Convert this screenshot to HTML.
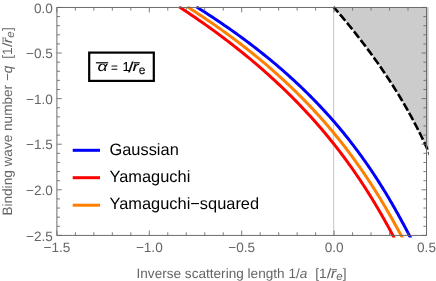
<!DOCTYPE html>
<html><head><meta charset="utf-8"><title>plot</title>
<style>html,body{margin:0;padding:0;background:#fff;}body{width:436px;height:281px;overflow:hidden;position:relative;font-family:"Liberation Sans",sans-serif;}</style>
</head><body>
<svg width="436" height="281" viewBox="0 0 436 281" style="position:absolute;left:0;top:0;will-change:transform;text-rendering:geometricPrecision;font-family:'Liberation Sans',sans-serif">
<rect width="436" height="281" fill="#fff"/>
<defs><clipPath id="cp"><rect x="55.9" y="6.25" width="372.80" height="231.15"/></clipPath></defs>
<path d="M333.99,7.45 L335.57,9.28 L337.15,11.11 L338.72,12.95 L340.27,14.78 L341.82,16.61 L343.36,18.44 L344.88,20.28 L346.40,22.11 L347.91,23.94 L349.41,25.77 L350.89,27.61 L352.37,29.44 L353.84,31.27 L355.30,33.10 L356.74,34.93 L358.18,36.77 L359.61,38.60 L361.03,40.43 L362.43,42.26 L363.83,44.10 L365.22,45.93 L366.60,47.76 L367.97,49.59 L369.32,51.42 L370.67,53.26 L372.01,55.09 L373.34,56.92 L374.66,58.75 L375.97,60.59 L377.26,62.42 L378.55,64.25 L379.83,66.08 L381.10,67.92 L382.36,69.75 L383.61,71.58 L384.85,73.41 L386.08,75.24 L387.30,77.08 L388.50,78.91 L389.70,80.74 L390.89,82.57 L392.07,84.41 L393.24,86.24 L394.40,88.07 L395.55,89.90 L396.69,91.73 L397.82,93.57 L398.94,95.40 L400.05,97.23 L401.15,99.06 L402.24,100.90 L403.32,102.73 L404.39,104.56 L405.45,106.39 L406.50,108.23 L407.54,110.06 L408.57,111.89 L409.59,113.72 L410.60,115.55 L411.61,117.39 L412.60,119.22 L413.58,121.05 L414.55,122.88 L415.51,124.72 L416.46,126.55 L417.40,128.38 L418.33,130.21 L419.25,132.04 L420.17,133.88 L421.07,135.71 L421.96,137.54 L422.84,139.37 L423.71,141.21 L424.57,143.04 L425.43,144.87 L426.27,146.70 L427.10,148.54 L427.92,150.37 L428.73,152.20 L428.7,152.2 L428.7,7.15 L333.99,7.15 Z" fill="#cccccc"/>
<line x1="333.70" y1="7.45" x2="333.70" y2="235.4" stroke="#c4c4c4" stroke-width="1"/>
<g clip-path="url(#cp)" fill="none" stroke-width="3" stroke-linejoin="round">
<path d="M179.16,6.80 L183.14,9.42 L187.08,12.04 L190.97,14.66 L194.82,17.28 L198.62,19.90 L202.37,22.52 L206.08,25.14 L209.75,27.76 L213.37,30.38 L216.95,33.00 L220.49,35.62 L223.98,38.24 L227.43,40.86 L230.84,43.48 L234.20,46.10 L237.53,48.72 L240.81,51.34 L244.06,53.96 L247.26,56.58 L250.43,59.20 L253.55,61.82 L256.64,64.44 L259.69,67.07 L262.70,69.69 L265.67,72.31 L268.60,74.93 L271.50,77.55 L274.36,80.17 L277.19,82.79 L279.98,85.41 L282.73,88.03 L285.45,90.65 L288.14,93.27 L290.79,95.89 L293.40,98.51 L295.99,101.13 L298.54,103.75 L301.05,106.37 L303.54,108.99 L305.99,111.61 L308.41,114.23 L310.80,116.85 L313.16,119.47 L315.49,122.09 L317.79,124.71 L320.06,127.33 L322.31,129.95 L324.52,132.57 L326.70,135.19 L328.86,137.81 L330.99,140.43 L333.09,143.05 L335.16,145.67 L337.21,148.29 L339.23,150.91 L341.23,153.53 L343.20,156.15 L345.15,158.77 L347.07,161.39 L348.97,164.01 L350.84,166.63 L352.69,169.25 L354.52,171.87 L356.33,174.49 L358.11,177.11 L359.87,179.73 L361.61,182.36 L363.33,184.98 L365.03,187.60 L366.71,190.22 L368.37,192.84 L370.01,195.46 L371.63,198.08 L373.23,200.70 L374.81,203.32 L376.38,205.94 L377.93,208.56 L379.46,211.18 L380.98,213.80 L382.47,216.42 L383.96,219.04 L385.42,221.66 L386.88,224.28 L388.31,226.90 L389.74,229.52 L391.14,232.14 L392.54,234.76 L393.92,237.38 L395.29,240.00" stroke="#ff0000"/>
<path d="M187.44,6.80 L191.51,9.42 L195.53,12.04 L199.50,14.66 L203.41,17.28 L207.28,19.90 L211.10,22.52 L214.87,25.14 L218.59,27.76 L222.27,30.38 L225.90,33.00 L229.48,35.62 L233.01,38.24 L236.50,40.86 L239.94,43.48 L243.34,46.10 L246.69,48.72 L250.00,51.34 L253.27,53.96 L256.49,56.58 L259.67,59.20 L262.81,61.82 L265.91,64.44 L268.97,67.07 L271.98,69.69 L274.96,72.31 L277.89,74.93 L280.79,77.55 L283.65,80.17 L286.47,82.79 L289.25,85.41 L291.99,88.03 L294.70,90.65 L297.37,93.27 L300.01,95.89 L302.61,98.51 L305.17,101.13 L307.70,103.75 L310.20,106.37 L312.66,108.99 L315.09,111.61 L317.49,114.23 L319.86,116.85 L322.19,119.47 L324.50,122.09 L326.77,124.71 L329.01,127.33 L331.22,129.95 L333.40,132.57 L335.56,135.19 L337.69,137.81 L339.78,140.43 L341.85,143.05 L343.90,145.67 L345.92,148.29 L347.91,150.91 L349.87,153.53 L351.82,156.15 L353.73,158.77 L355.62,161.39 L357.49,164.01 L359.34,166.63 L361.16,169.25 L362.96,171.87 L364.74,174.49 L366.50,177.11 L368.24,179.73 L369.96,182.36 L371.66,184.98 L373.33,187.60 L374.99,190.22 L376.64,192.84 L378.26,195.46 L379.87,198.08 L381.45,200.70 L383.03,203.32 L384.58,205.94 L386.13,208.56 L387.65,211.18 L389.16,213.80 L390.66,216.42 L392.15,219.04 L393.62,221.66 L395.07,224.28 L396.52,226.90 L397.95,229.52 L399.38,232.14 L400.79,234.76 L402.19,237.38 L403.58,240.00" stroke="#ff8000"/>
<path d="M196.37,6.80 L200.51,9.42 L204.60,12.04 L208.64,14.66 L212.62,17.28 L216.55,19.90 L220.43,22.52 L224.26,25.14 L228.03,27.76 L231.76,30.38 L235.44,33.00 L239.06,35.62 L242.64,38.24 L246.17,40.86 L249.65,43.48 L253.09,46.10 L256.47,48.72 L259.81,51.34 L263.11,53.96 L266.36,56.58 L269.56,59.20 L272.73,61.82 L275.84,64.44 L278.92,67.07 L281.95,69.69 L284.94,72.31 L287.89,74.93 L290.79,77.55 L293.66,80.17 L296.48,82.79 L299.27,85.41 L302.02,88.03 L304.72,90.65 L307.39,93.27 L310.02,95.89 L312.62,98.51 L315.18,101.13 L317.70,103.75 L320.19,106.37 L322.64,108.99 L325.05,111.61 L327.44,114.23 L329.79,116.85 L332.10,119.47 L334.39,122.09 L336.64,124.71 L338.86,127.33 L341.05,129.95 L343.21,132.57 L345.33,135.19 L347.43,137.81 L349.50,140.43 L351.54,143.05 L353.56,145.67 L355.54,148.29 L357.50,150.91 L359.43,153.53 L361.34,156.15 L363.22,158.77 L365.08,161.39 L366.91,164.01 L368.72,166.63 L370.50,169.25 L372.26,171.87 L374.00,174.49 L375.72,177.11 L377.42,179.73 L379.09,182.36 L380.74,184.98 L382.38,187.60 L383.99,190.22 L385.59,192.84 L387.17,195.46 L388.73,198.08 L390.27,200.70 L391.80,203.32 L393.31,205.94 L394.80,208.56 L396.28,211.18 L397.75,213.80 L399.20,216.42 L400.63,219.04 L402.06,221.66 L403.47,224.28 L404.86,226.90 L406.25,229.52 L407.62,232.14 L408.99,234.76 L410.34,237.38 L411.69,240.00" stroke="#0000ff"/>
<path d="M333.51,6.90 L335.17,8.81 L336.82,10.73 L338.45,12.64 L340.08,14.55 L341.70,16.46 L343.30,18.38 L344.90,20.29 L346.48,22.20 L348.05,24.11 L349.61,26.03 L351.16,27.94 L352.70,29.85 L354.23,31.76 L355.75,33.68 L357.26,35.59 L358.76,37.50 L360.24,39.42 L361.72,41.33 L363.18,43.24 L364.63,45.15 L366.08,47.07 L367.51,48.98 L368.93,50.89 L370.34,52.80 L371.74,54.72 L373.13,56.63 L374.50,58.54 L375.87,60.45 L377.23,62.37 L378.57,64.28 L379.91,66.19 L381.23,68.11 L382.54,70.02 L383.85,71.93 L385.14,73.84 L386.42,75.76 L387.69,77.67 L388.95,79.58 L390.19,81.49 L391.43,83.41 L392.66,85.32 L393.87,87.23 L395.08,89.14 L396.27,91.06 L397.45,92.97 L398.63,94.88 L399.79,96.79 L400.94,98.71 L402.08,100.62 L403.21,102.53 L404.32,104.45 L405.43,106.36 L406.53,108.27 L407.61,110.18 L408.69,112.10 L409.75,114.01 L410.81,115.92 L411.85,117.83 L412.88,119.75 L413.90,121.66 L414.91,123.57 L415.91,125.48 L416.90,127.40 L417.88,129.31 L418.84,131.22 L419.80,133.14 L420.74,135.05 L421.68,136.96 L422.60,138.87 L423.51,140.79 L424.41,142.70 L425.31,144.61 L426.19,146.52 L427.05,148.44 L427.91,150.35 L428.76,152.26 L429.60,154.17 L430.42,156.09 L431.24,158.00" stroke="#000" stroke-width="2.6" stroke-dasharray="8.27 2.68" stroke-dashoffset="1.0"/>
</g>
<g stroke="#666666" stroke-width="0.85"><line x1="56.90" y1="7.45" x2="56.90" y2="12.350000000000001"/><line x1="56.90" y1="235.4" x2="56.90" y2="230.5"/><line x1="75.38" y1="7.45" x2="75.38" y2="10.55"/><line x1="75.38" y1="235.4" x2="75.38" y2="232.3"/><line x1="93.86" y1="7.45" x2="93.86" y2="10.55"/><line x1="93.86" y1="235.4" x2="93.86" y2="232.3"/><line x1="112.34" y1="7.45" x2="112.34" y2="10.55"/><line x1="112.34" y1="235.4" x2="112.34" y2="232.3"/><line x1="130.82" y1="7.45" x2="130.82" y2="10.55"/><line x1="130.82" y1="235.4" x2="130.82" y2="232.3"/><line x1="149.30" y1="7.45" x2="149.30" y2="12.350000000000001"/><line x1="149.30" y1="235.4" x2="149.30" y2="230.5"/><line x1="167.78" y1="7.45" x2="167.78" y2="10.55"/><line x1="167.78" y1="235.4" x2="167.78" y2="232.3"/><line x1="186.26" y1="7.45" x2="186.26" y2="10.55"/><line x1="186.26" y1="235.4" x2="186.26" y2="232.3"/><line x1="204.74" y1="7.45" x2="204.74" y2="10.55"/><line x1="204.74" y1="235.4" x2="204.74" y2="232.3"/><line x1="223.22" y1="7.45" x2="223.22" y2="10.55"/><line x1="223.22" y1="235.4" x2="223.22" y2="232.3"/><line x1="241.70" y1="7.45" x2="241.70" y2="12.350000000000001"/><line x1="241.70" y1="235.4" x2="241.70" y2="230.5"/><line x1="260.18" y1="7.45" x2="260.18" y2="10.55"/><line x1="260.18" y1="235.4" x2="260.18" y2="232.3"/><line x1="278.66" y1="7.45" x2="278.66" y2="10.55"/><line x1="278.66" y1="235.4" x2="278.66" y2="232.3"/><line x1="297.14" y1="7.45" x2="297.14" y2="10.55"/><line x1="297.14" y1="235.4" x2="297.14" y2="232.3"/><line x1="315.62" y1="7.45" x2="315.62" y2="10.55"/><line x1="315.62" y1="235.4" x2="315.62" y2="232.3"/><line x1="334.10" y1="7.45" x2="334.10" y2="12.350000000000001"/><line x1="334.10" y1="235.4" x2="334.10" y2="230.5"/><line x1="352.58" y1="7.45" x2="352.58" y2="10.55"/><line x1="352.58" y1="235.4" x2="352.58" y2="232.3"/><line x1="371.06" y1="7.45" x2="371.06" y2="10.55"/><line x1="371.06" y1="235.4" x2="371.06" y2="232.3"/><line x1="389.54" y1="7.45" x2="389.54" y2="10.55"/><line x1="389.54" y1="235.4" x2="389.54" y2="232.3"/><line x1="408.02" y1="7.45" x2="408.02" y2="10.55"/><line x1="408.02" y1="235.4" x2="408.02" y2="232.3"/><line x1="426.50" y1="7.45" x2="426.50" y2="12.350000000000001"/><line x1="426.50" y1="235.4" x2="426.50" y2="230.5"/><line x1="56.9" y1="7.45" x2="61.8" y2="7.45"/><line x1="426.5" y1="7.45" x2="421.6" y2="7.45"/><line x1="56.9" y1="16.57" x2="60.0" y2="16.57"/><line x1="426.5" y1="16.57" x2="423.4" y2="16.57"/><line x1="56.9" y1="25.69" x2="60.0" y2="25.69"/><line x1="426.5" y1="25.69" x2="423.4" y2="25.69"/><line x1="56.9" y1="34.80" x2="60.0" y2="34.80"/><line x1="426.5" y1="34.80" x2="423.4" y2="34.80"/><line x1="56.9" y1="43.92" x2="60.0" y2="43.92"/><line x1="426.5" y1="43.92" x2="423.4" y2="43.92"/><line x1="56.9" y1="53.04" x2="61.8" y2="53.04"/><line x1="426.5" y1="53.04" x2="421.6" y2="53.04"/><line x1="56.9" y1="62.16" x2="60.0" y2="62.16"/><line x1="426.5" y1="62.16" x2="423.4" y2="62.16"/><line x1="56.9" y1="71.28" x2="60.0" y2="71.28"/><line x1="426.5" y1="71.28" x2="423.4" y2="71.28"/><line x1="56.9" y1="80.39" x2="60.0" y2="80.39"/><line x1="426.5" y1="80.39" x2="423.4" y2="80.39"/><line x1="56.9" y1="89.51" x2="60.0" y2="89.51"/><line x1="426.5" y1="89.51" x2="423.4" y2="89.51"/><line x1="56.9" y1="98.63" x2="61.8" y2="98.63"/><line x1="426.5" y1="98.63" x2="421.6" y2="98.63"/><line x1="56.9" y1="107.75" x2="60.0" y2="107.75"/><line x1="426.5" y1="107.75" x2="423.4" y2="107.75"/><line x1="56.9" y1="116.87" x2="60.0" y2="116.87"/><line x1="426.5" y1="116.87" x2="423.4" y2="116.87"/><line x1="56.9" y1="125.98" x2="60.0" y2="125.98"/><line x1="426.5" y1="125.98" x2="423.4" y2="125.98"/><line x1="56.9" y1="135.10" x2="60.0" y2="135.10"/><line x1="426.5" y1="135.10" x2="423.4" y2="135.10"/><line x1="56.9" y1="144.22" x2="61.8" y2="144.22"/><line x1="426.5" y1="144.22" x2="421.6" y2="144.22"/><line x1="56.9" y1="153.34" x2="60.0" y2="153.34"/><line x1="426.5" y1="153.34" x2="423.4" y2="153.34"/><line x1="56.9" y1="162.46" x2="60.0" y2="162.46"/><line x1="426.5" y1="162.46" x2="423.4" y2="162.46"/><line x1="56.9" y1="171.57" x2="60.0" y2="171.57"/><line x1="426.5" y1="171.57" x2="423.4" y2="171.57"/><line x1="56.9" y1="180.69" x2="60.0" y2="180.69"/><line x1="426.5" y1="180.69" x2="423.4" y2="180.69"/><line x1="56.9" y1="189.81" x2="61.8" y2="189.81"/><line x1="426.5" y1="189.81" x2="421.6" y2="189.81"/><line x1="56.9" y1="198.93" x2="60.0" y2="198.93"/><line x1="426.5" y1="198.93" x2="423.4" y2="198.93"/><line x1="56.9" y1="208.05" x2="60.0" y2="208.05"/><line x1="426.5" y1="208.05" x2="423.4" y2="208.05"/><line x1="56.9" y1="217.16" x2="60.0" y2="217.16"/><line x1="426.5" y1="217.16" x2="423.4" y2="217.16"/><line x1="56.9" y1="226.28" x2="60.0" y2="226.28"/><line x1="426.5" y1="226.28" x2="423.4" y2="226.28"/><line x1="56.9" y1="235.40" x2="61.8" y2="235.40"/><line x1="426.5" y1="235.40" x2="421.6" y2="235.40"/></g>
<rect x="56.9" y="7.45" width="369.6" height="227.95000000000002" fill="none" stroke="#666666" stroke-width="0.95"/>
<g fill="#666" font-size="13.6px"><text x="56.90" y="251.5" text-anchor="middle">−1.5</text><text x="149.30" y="251.5" text-anchor="middle">−1.0</text><text x="241.70" y="251.5" text-anchor="middle">−0.5</text><text x="334.10" y="251.5" text-anchor="middle">0.0</text><text x="426.50" y="251.5" text-anchor="middle">0.5</text><text x="52.9" y="12.55" text-anchor="end">0.0</text><text x="52.9" y="58.14" text-anchor="end">−0.5</text><text x="52.9" y="103.73" text-anchor="end">−1.0</text><text x="52.9" y="149.32" text-anchor="end">−1.5</text><text x="52.9" y="194.91" text-anchor="end">−2.0</text><text x="52.9" y="240.50" text-anchor="end">−2.5</text></g>
<g stroke-width="3">
<line x1="72.7" y1="150.3" x2="100" y2="150.3" stroke="#0000ff"/>
<line x1="72.7" y1="177.7" x2="100" y2="177.7" stroke="#ff0000"/>
<line x1="72.7" y1="205.2" x2="100" y2="205.2" stroke="#ff8000"/>
</g>
<g fill="#000" font-size="16.4px">
<text x="109.5" y="155.3">Gaussian</text>
<text x="109.5" y="181.8">Yamaguchi</text>
<text x="109.5" y="209.1">Yamaguchi−squared</text>
</g>
<rect x="89.2" y="52.6" width="64.6" height="28.3" fill="#fff" stroke="#000" stroke-width="2.2"/>
<g fill="#000" font-size="13px" stroke="#000" stroke-width="0.1">
<text transform="translate(97.4,71.4) scale(1.3,1)" font-style="italic" font-size="13.5px" stroke="none">α</text>
<line x1="95.9" y1="62.8" x2="108.2" y2="62.8" stroke="#000" stroke-width="1.2"/>
<text transform="translate(110.9,72.2) scale(0.9,1)">=</text>
<text x="122.4" y="71.4">1</text>
<text transform="translate(128.3,71.9) scale(1.45,1.1)">/</text>
<text transform="translate(132.5,71.4) scale(1.4,1)" font-style="italic">r</text>
<line x1="133.7" y1="62.8" x2="139.7" y2="62.8" stroke="#000" stroke-width="1.2"/>
<text x="138.8" y="73.9" font-size="12px">e</text>
</g>
<g fill="#666" font-size="13.6px"><text x="136.5" y="278">Inverse scattering length 1/<tspan font-style="italic">a</tspan></text><text x="315.20" y="278">[1</text><text transform="translate(326.80,278) scale(1.22,1)">/</text><text transform="translate(330.70,278) scale(1.2,1)" font-style="italic">r</text><line x1="331.60" y1="269.60" x2="337.00" y2="269.60" stroke="#666" stroke-width="0.9"/><text x="336.20" y="280.00" font-style="italic" font-size="11.5px">e</text><text x="342.80" y="278">]</text><g transform="translate(12.1,0) rotate(-90)"><text x="-215.6" y="0">Binding wave number −<tspan font-style="italic">q</tspan></text><text x="-58.70" y="0">[1</text><text transform="translate(-47.10,0) scale(1.22,1)">/</text><text transform="translate(-43.20,0) scale(1.2,1)" font-style="italic">r</text><line x1="-42.30" y1="-9.00" x2="-36.90" y2="-9.00" stroke="#666" stroke-width="0.9"/><text x="-37.70" y="2.00" font-style="italic" font-size="11.5px">e</text><text x="-30.90" y="0">]</text></g></g>
</svg>
</body></html>
